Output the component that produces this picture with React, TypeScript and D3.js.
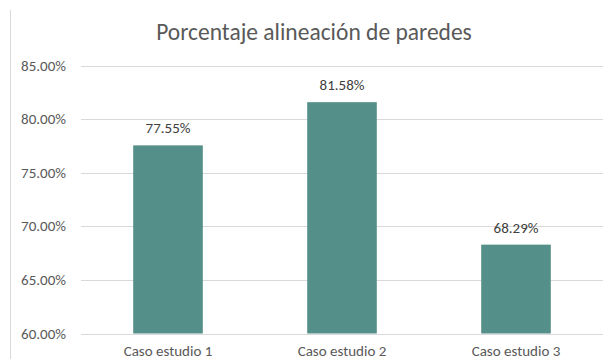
import { useEffect, useRef } from "react";
import * as d3 from "d3";

const categories = ["Caso estudio 1", "Caso estudio 2", "Caso estudio 3"];
const values = [0.7755, 0.8158, 0.6829];
const yTicks = [0.6, 0.65, 0.7, 0.75, 0.8, 0.85];
const title = "Porcentaje alineación de paredes";

const W = 612;
const H = 359;
const FONT = "Carlito, Calibri, Lato, 'Open Sans', sans-serif";

const App = () => {
  const svgRef = useRef<SVGSVGElement>(null);

  useEffect(() => {
    if (!svgRef.current) return;
    const svg = d3.select(svgRef.current);
    svg.selectAll("*").remove();

    const plot = { left: 81, right: 603, top: 65.5, bottom: 333.5 };

    const x = d3.scaleBand<string>()
      .domain(categories)
      .range([plot.left, plot.right])
      .paddingInner(0.6)
      .paddingOuter(0.3);

    const y = d3.scaleLinear().domain([0.6, 0.85]).range([plot.bottom, plot.top]);

    svg.append("rect").attr("width", W).attr("height", H).attr("fill", "#ffffff");

    // left chart border
    svg.append("line")
      .attr("x1", 10.5).attr("x2", 10.5)
      .attr("y1", 10).attr("y2", H)
      .attr("stroke", "#d9d9d9");

    // title
    svg.append("text")
      .attr("x", 314)
      .attr("y", 40)
      .attr("text-anchor", "middle")
      .attr("font-family", FONT)
      .attr("font-size", 23.5)
      .attr("fill", "#595959")
      .text(title);

    // gridlines + tick labels
    const grid = svg.append("g");
    grid.selectAll("line")
      .data(yTicks)
      .enter()
      .append("line")
      .attr("x1", plot.left).attr("x2", plot.right)
      .attr("y1", (d) => Math.round(y(d)) + 0.5)
      .attr("y2", (d) => Math.round(y(d)) + 0.5)
      .attr("stroke", "#d9d9d9");

    grid.selectAll("text")
      .data(yTicks)
      .enter()
      .append("text")
      .attr("x", 66)
      .attr("y", (d) => y(d) + 5)
      .attr("text-anchor", "end")
      .attr("font-family", FONT)
      .attr("font-size", 15)
      .attr("fill", "#595959")
      .text((d) => d3.format(".2%")(d));

    // bars
    svg.append("g")
      .selectAll("rect")
      .data(values)
      .enter()
      .append("rect")
      .attr("x", (_, i) => x(categories[i])!)
      .attr("width", x.bandwidth())
      .attr("y", (d) => y(d))
      .attr("height", (d) => y(0.6) - y(d))
      .attr("fill", "#558f89");

    // value labels
    svg.append("g")
      .selectAll("text")
      .data(values)
      .enter()
      .append("text")
      .attr("x", (_, i) => x(categories[i])! + x.bandwidth() / 2)
      .attr("y", (d) => y(d) - 12)
      .attr("text-anchor", "middle")
      .attr("font-family", FONT)
      .attr("font-size", 15)
      .attr("fill", "#404040")
      .text((d) => d3.format(".2%")(d));

    // category labels
    svg.append("g")
      .selectAll("text")
      .data(categories)
      .enter()
      .append("text")
      .attr("x", (d) => x(d)! + x.bandwidth() / 2)
      .attr("y", 356)
      .attr("text-anchor", "middle")
      .attr("font-family", FONT)
      .attr("font-size", 15)
      .attr("fill", "#595959")
      .text((d) => d);
  }, []);

  return (
    <div style={{ position: "fixed", left: 0, top: 0 }}>
      <svg ref={svgRef} width={W} height={H} style={{ display: "block" }} />
    </div>
  );
};

export default App;
